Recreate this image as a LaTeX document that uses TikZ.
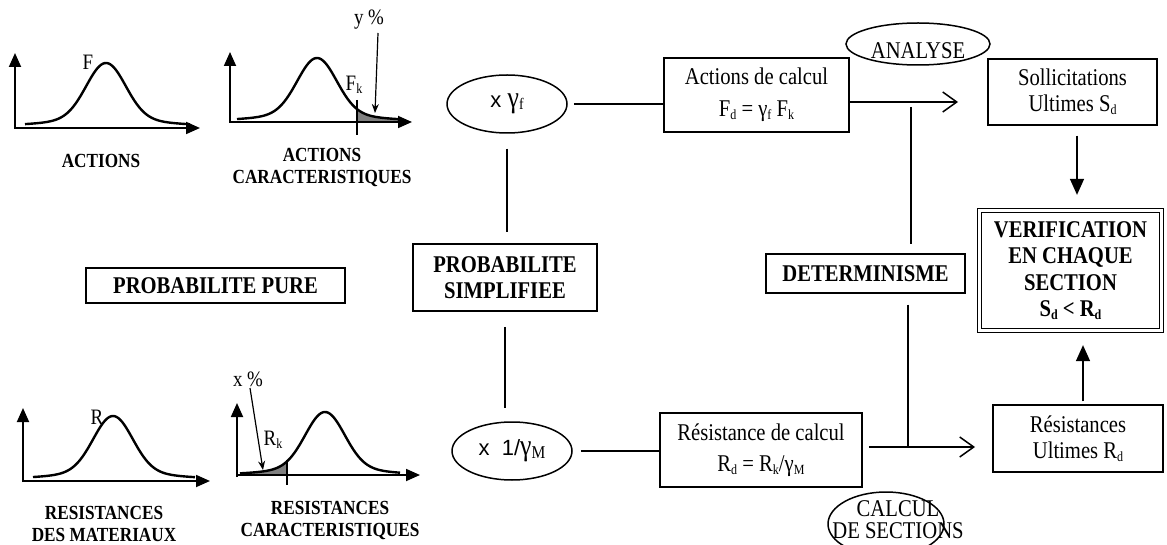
\documentclass[tikz,border=0pt]{standalone}
\usepackage{fontspec}
\setmainfont{Liberation Serif}[FakeStretch=0.86]
\newfontfamily\sansx{Liberation Sans}
\usetikzlibrary{arrows.meta,shapes.geometric}
\newcommand\sbs[1]{\raisebox{-0.25ex}{\fontsize{14}{14}\selectfont #1}}
\begin{document}
\begin{tikzpicture}[x=1pt,y=-1pt,
  declare function={bell(\t)=56*exp(-\t*\t/760)+7*exp(-\t*\t/5000);},
  mybox/.style={draw, line width=1.5pt, inner sep=0pt, align=center, font=\fontsize{24}{26}\selectfont},
  bbox/.style={mybox, font=\bfseries\fontsize{24}{26}\selectfont},
  caplbl/.style={inner sep=0pt, align=center, font=\bfseries\fontsize{20}{22}\selectfont},
  lbl/.style={inner sep=0pt, font=\fontsize{22}{24}\selectfont},
  txt/.style={inner sep=0pt, align=center, font=\fontsize{24}{24}\selectfont},
  conn/.style={line width=1.5pt},
  bellcurve/.style={line width=2.4pt, line join=round},
  axisarr/.style={line width=1.8pt, -{Triangle[length=14pt,width=12pt]}},
  oval/.style={draw, ellipse, line width=1.5pt, inner sep=0pt},
  openarr/.style={conn, -{Straight Barb[length=14pt,width=20pt]}},
  fillarr/.style={conn, -{Triangle[length=16pt,width=14pt]}},
  ptr/.style={line width=1.2pt, -{Stealth[length=9pt,width=7pt]}},
  shadefill/.style={fill=black!50}
]
\useasboundingbox (0,0) rectangle (1167,545);
\fill[white] (0,0) rectangle (1167,545);

% ---------- plot 1 : ACTIONS ----------
\draw[bellcurve] plot[domain=-81:84, samples=90, smooth] ({106+\x},{126-bell(\x)});
\draw[axisarr] (15,129) -- (15,53);
\draw[axisarr] (14,128) -- (200,128);
\node[lbl] (lF) at (88,62) {F};
\node[caplbl] (cap1) at (101,161) {ACTIONS};

% ---------- plot 2 : ACTIONS CARACTERISTIQUES ----------
\fill[shadefill] (357,121) -- plot[domain=40:83, samples=30, smooth] ({317+\x},{121-bell(\x)}) -- (400,121) -- cycle;
\draw[bellcurve] plot[domain=-80:83, samples=90, smooth] ({317+\x},{121-bell(\x)});
\draw[axisarr] (230,123) -- (230,52);
\draw[axisarr] (229,122) -- (412,122);
\draw[line width=1.5pt] (357,100) -- (357,135);
\node[lbl] (lFk) at (354,85) {F\sbs{k}};
\node[lbl] (ly) at (369,20) {y \%};
\coordinate (ytip) at (375,113);
\draw[ptr] (378,33) -- (ytip);
\node[caplbl] (cap2) at (322,168) {ACTIONS\\CARACTERISTIQUES};

% ---------- plot 3 : RESISTANCES DES MATERIAUX ----------
\draw[bellcurve] plot[domain=-80:82, samples=90, smooth] ({113+\x},{479-bell(\x)});
\draw[axisarr] (23,482) -- (23,408);
\draw[axisarr] (22,481) -- (210,481);
\node[lbl] (lR) at (97,417) {R};
\node[caplbl] (cap3) at (104,524) {RESISTANCES\\DES MATERIAUX};

% ---------- plot 4 : RESISTANCES CARACTERISTIQUES ----------
\fill[shadefill] (240,475) -- plot[domain=-85:-38, samples=30, smooth] ({325+\x},{475-bell(\x)}) -- (287,475) -- cycle;
\draw[bellcurve] plot[domain=-85:75, samples=90, smooth] ({325+\x},{475-bell(\x)});
\draw[axisarr] (237,477) -- (237,403);
\draw[axisarr] (236,475) -- (420,475);
\draw[line width=1.5pt] (287,460) -- (287,485);
\node[lbl] (lRk) at (273,440) {R\sbs{k}};
\node[lbl] (lx) at (248,379) {x \%};
\coordinate (xtip) at (263,470);
\draw[ptr] (250,388) -- (xtip);
\node[caplbl] (cap4) at (330,520) {RESISTANCES\\CARACTERISTIQUES};

% ---------- boxes ----------
\node[bbox, minimum width=259pt, minimum height=35pt] (ppure) at (215.5,285.5) {PROBABILITE PURE};
\node[bbox, minimum width=184pt, minimum height=67pt] (psimp) at (505,277.5) {PROBABILITE\\SIMPLIFIEE};
\node[bbox, minimum width=199pt, minimum height=39pt] (det) at (865.5,273.5) {DETERMINISME};
\node[draw, double, double distance=2.4pt, line width=1.3pt, inner sep=0pt, align=center,
      font=\bfseries\fontsize{24}{26.5}\selectfont, minimum width=182pt, minimum height=120pt]
      (verif) at (1070.5,270.5) {VERIFICATION\\EN CHAQUE\\SECTION\\S\sbs{d} < R\sbs{d}};

\node[mybox, minimum width=185pt, minimum height=74pt] (act) at (756.5,95) {Actions de calcul\\[6pt]F\sbs{d} = γ\sbs{f} F\sbs{k}};
\node[mybox, minimum width=169pt, minimum height=66pt] (soll) at (1072.5,92) {Sollicitations\\Ultimes S\sbs{d}};
\node[mybox, minimum width=202pt, minimum height=74pt] (rcal) at (761,450) {Résistance de calcul\\[5pt]R\sbs{d} = R\sbs{k}/γ\sbs{M}};
\node[mybox, minimum width=170pt, minimum height=67pt] (res) at (1078,438.5) {Résistances\\Ultimes R\sbs{d}};

% ---------- ellipses ----------
\node[oval, minimum width=120pt, minimum height=58pt, font=\fontsize{30}{30}\selectfont] (ell1) at (507,104) {{\sansx\fontsize{22}{22}\selectfont x}~γ{\fontsize{16}{16}\selectfont\raisebox{-0.3ex}{f}}};
\node[oval, minimum width=120pt, minimum height=58pt, font=\fontsize{30}{30}\selectfont] (ell2) at (512,451) {{\sansx\fontsize{22}{22}\selectfont x~~1/}γ{\fontsize{18}{18}\selectfont\raisebox{-0.3ex}{M}}};
\node[oval, minimum width=144pt, minimum height=42pt] (ana) at (918,44) {};
\node[txt] (anat) at (918,51) {ANALYSE};
\node[oval, minimum width=116pt, minimum height=64pt] (cal) at (886,524) {};
\node[txt, font=\fontsize{24}{22}\selectfont] (calt) at (898,520) {CALCUL\\DE SECTIONS};

% ---------- connectors ----------
\draw[conn, shorten <=6pt] (ell1.east) -- (ell1.east -| act.west);
\draw[conn, shorten <=15pt, shorten >=11pt] (ell1.south) -- (ell1.south |- psimp.north);
\draw[conn, shorten <=15pt, shorten >=13pt] (psimp.south) -- (psimp.south |- ell2.north);
\draw[conn, shorten <=8pt] (ell2.east) -- (ell2.east -| rcal.west);

\coordinate (atip) at (958,102);
\draw[openarr] (act.east |- atip) -- (atip);
\coordinate (djt) at (911,107);
\draw[conn, shorten >=9pt] (djt) -- (djt |- det.north);

\coordinate (btip) at (975,447);
\coordinate (junc) at (908,447);
\draw[openarr, shorten <=6pt] (rcal.east |- btip) -- (btip);
\draw[conn, shorten <=11pt] (det.south -| junc) -- (junc);

\coordinate (dcol) at (1077,0);
\draw[fillarr, shorten <=10pt, shorten >=15pt] (soll.south -| dcol) -- (verif.north -| dcol);
\coordinate (ucol) at (1083,0);
\draw[fillarr, shorten <=3pt, shorten >=14pt] (res.north -| ucol) -- (verif.south -| ucol);
\end{tikzpicture}
\end{document}
